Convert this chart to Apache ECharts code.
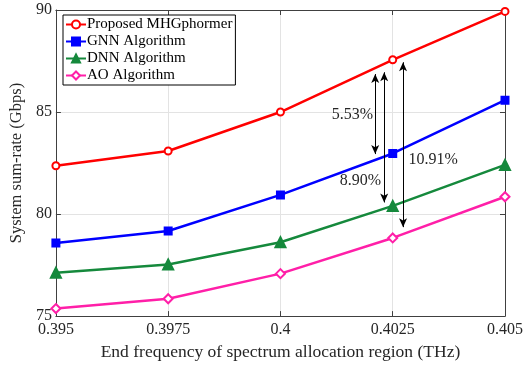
<!DOCTYPE html>
<html>
<head>
<meta charset="utf-8">
<script src="https://cdn.jsdelivr.net/npm/echarts@6/dist/echarts.min.js"></script>
<style>html,body{margin:0;padding:0;background:#fff}#c{width:531px;height:366px}</style>
</head>
<body>
<div id="c"></div>
<script>
const xValues = [0.395, 0.3975, 0.4, 0.4025, 0.405];
const seriesNames = ['Proposed MHGphormer', 'GNN Algorithm', 'DNN Algorithm', 'AO Algorithm'];
const proposed = [82.37, 83.09, 85.00, 87.56, 89.93];
const gnn = [78.58, 79.17, 80.94, 82.97, 85.58];
const dnn = [77.13, 77.53, 78.62, 80.40, 82.41];
const ao = [75.37, 75.85, 77.08, 78.83, 80.85];
const yTicks = [75, 80, 85, 90];
// annotation arrows: [x, yTop, yBottom]
const arrows = [[0.40211, 86.86, 82.94], [0.40231, 86.95, 80.57], [0.40273, 87.44, 79.36]];
// annotation texts: [text, x, y]
const notes = [['5.53%', 0.4016, 84.87], ['8.90%', 0.40178, 81.63], ['10.91%', 0.4034, 82.65]];

const font = 'Liberation Serif, Times New Roman, serif';
const axisCol = '#404040';
const textCol = '#262626';
const pair = d => xValues.map((x, i) => [x, d[i]]);

const chart = echarts.init(document.getElementById('c'));
const xBase = {
  type: 'value', min: xValues[0], max: xValues[xValues.length - 1], interval: 0.0025,
  axisLine: {show: true, lineStyle: {color: axisCol, width: 1}},
  axisTick: {show: true, inside: true, length: 5, lineStyle: {color: axisCol}},
  splitLine: {show: false}
};
const yBase = {
  type: 'value', min: yTicks[0], max: yTicks[yTicks.length - 1], interval: 5,
  axisLine: {show: true, lineStyle: {color: axisCol, width: 1}},
  axisTick: {show: true, inside: true, length: 5, lineStyle: {color: axisCol}},
  splitLine: {show: false}
};
const mk = (name, data, color, symbol, size, extra) => Object.assign({
  name, type: 'line', data: pair(data), symbol, symbolSize: size,
  lineStyle: {color, width: 2.5}, itemStyle: {color, borderColor: color, borderWidth: 2},
  showAllSymbol: true, z: 3
}, extra || {});

chart.setOption({
  animation: false,
  backgroundColor: '#fff',
  textStyle: {fontFamily: font},
  grid: {left: 55, right: 26, top: 10, bottom: 46, containLabel: false},
  legend: {
    data: seriesNames, orient: 'vertical', left: 63, top: 15,
    backgroundColor: '#fff', borderColor: '#000', borderWidth: 1,
    padding: [2, 3, 2, 2], itemGap: 2, itemWidth: 20, itemHeight: 10,
    textStyle: {fontFamily: font, fontSize: 15, color: '#000', padding: [0, 0, 0, -4]}
  },
  xAxis: [
    Object.assign({}, xBase, {
      position: 'bottom',
      name: 'End frequency of spectrum allocation region (THz)', nameLocation: 'middle', nameGap: 21,
      nameTextStyle: {fontFamily: font, fontSize: 17.5, color: textCol},
      axisLabel: {fontFamily: font, fontSize: 16, color: textCol, margin: 6,
        formatter: v => String(parseFloat(v.toFixed(4)))},
      splitLine: {show: true, lineStyle: {color: '#e3e3e3', width: 1}}
    }),
    Object.assign({}, xBase, {position: 'top', axisLabel: {show: false}})
  ],
  yAxis: [
    Object.assign({}, yBase, {
      position: 'left',
      name: 'System sum-rate (Gbps)', nameLocation: 'middle', nameGap: 27,
      nameTextStyle: {fontFamily: font, fontSize: 16.5, color: textCol},
      axisLabel: {fontFamily: font, fontSize: 16, color: textCol, margin: 4},
      splitLine: {show: true, lineStyle: {color: '#e3e3e3', width: 1}}
    }),
    Object.assign({}, yBase, {position: 'right', axisLabel: {show: false}})
  ],
  series: [
    mk(seriesNames[0], proposed, '#ff0000', 'emptyCircle', 7, {
      markLine: {
        silent: true, symbol: ['arrow', 'arrow'], symbolSize: [6, 9],
        label: {show: false},
        lineStyle: {color: '#000', width: 1, type: 'solid'},
        data: arrows.map(a => [{coord: [a[0], a[1]]}, {coord: [a[0], a[2]]}])
      },
      markPoint: {
        silent: true, symbol: 'circle', symbolSize: 0,
        label: {show: true, position: 'inside', color: textCol, fontFamily: font, fontSize: 16,
          formatter: p => p.name},
        data: notes.map(n => ({name: n[0], coord: [n[1], n[2]]}))
      }
    }),
    mk(seriesNames[1], gnn, '#0000ff', 'rect', 7),
    mk(seriesNames[2], dnn, '#15893c', 'triangle', 10),
    mk(seriesNames[3], ao, '#ff1fa8', 'emptyDiamond', 9)
  ]
});
</script>
</body>
</html>
